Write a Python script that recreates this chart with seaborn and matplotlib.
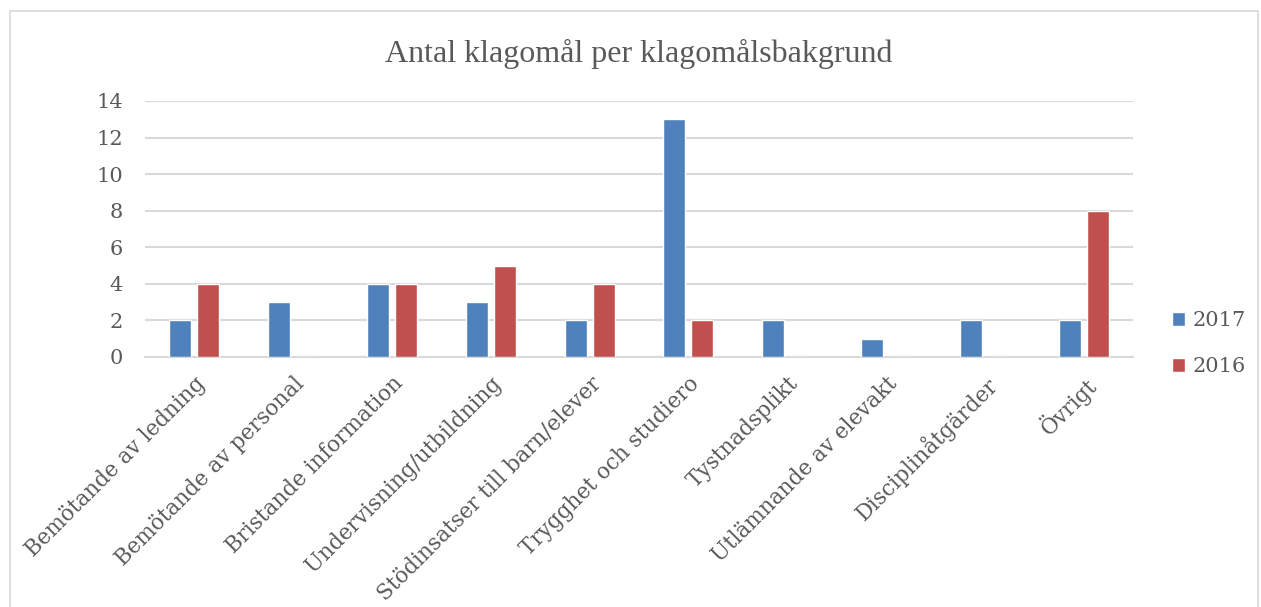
import matplotlib
matplotlib.use("Agg")
import matplotlib.pyplot as plt
from matplotlib.patches import Rectangle
import seaborn as sns
import pandas as pd

categories = [
    "Bemötande av ledning",
    "Bemötande av personal",
    "Bristande information",
    "Undervisning/utbildning",
    "Stödinsatser till barn/elever",
    "Trygghet och studiero",
    "Tystnadsplikt",
    "Utlämnande av elevakt",
    "Disciplinåtgärder",
    "Övrigt",
]
years = ["2017", "2016"]
values_2017 = [2, 3, 4, 3, 2, 13, 2, 1, 2, 2]
values_2016 = [4, 0, 4, 5, 4, 2, 0, 0, 0, 8]
y_ticks = [0, 2, 4, 6, 8, 10, 12, 14]

df = pd.DataFrame({
    "kategori": categories * 2,
    "år": [years[0]] * len(categories) + [years[1]] * len(categories),
    "antal": values_2017 + values_2016,
})

sns.set_theme(style="white")
plt.rcParams["font.family"] = ["DejaVu Serif", "Liberation Serif"]
text_color = "#595959"
grid_color = "#D9D9D9"

fig = plt.figure(figsize=(12.61, 6.07), dpi=100)
ax = fig.add_axes([145 / 1261, 1 - 357 / 607, (1133 - 145) / 1261, (357 - 101) / 607])

sns.barplot(
    data=df, x="kategori", y="antal", hue="år", hue_order=years,
    palette=["#4F81BD", "#C0504D"], width=0.567, gap=0.21,
    saturation=1, ax=ax, zorder=3,
)

ax.set_ylim(0, 14)
ax.set_xlim(-0.5, len(categories) - 0.5)
ax.set_yticks(y_ticks)
ax.set_yticklabels([str(t) for t in y_ticks], fontsize=15, color=text_color)
ax.tick_params(axis="y", length=0, pad=16)
ax.tick_params(axis="x", length=0, pad=11)
ax.set_xticks(range(len(categories)))
ax.set_xticklabels(categories, rotation=45, ha="right", va="top",
                   rotation_mode="anchor", fontsize=15.5, color=text_color)
ax.yaxis.grid(True, color=grid_color, linewidth=1.5, zorder=0)
ax.set_axisbelow(True)
for side in ["top", "right", "left"]:
    ax.spines[side].set_visible(False)
ax.spines["bottom"].set_color(grid_color)
ax.spines["bottom"].set_linewidth(1.5)
ax.set_xlabel("")
ax.set_ylabel("")

ax.set_title("Antal klagomål per klagomålsbakgrund", fontsize=23,
             family="Liberation Serif", color=text_color, pad=28)

leg = ax.legend(loc="center left", bbox_to_anchor=(1.02, 0.053), frameon=False,
                fontsize=15, handlelength=0.65, handleheight=0.65,
                handletextpad=0.35, labelspacing=1.3)
for t in leg.get_texts():
    t.set_color(text_color)

fig.patches.append(Rectangle((10 / 1261, -0.01), (1258 - 10) / 1261, 1.01 - 11 / 607,
                             transform=fig.transFigure, fill=False,
                             edgecolor="#D9D9D9", linewidth=1.2))

fig.savefig("out.png", dpi=100, facecolor="white")
